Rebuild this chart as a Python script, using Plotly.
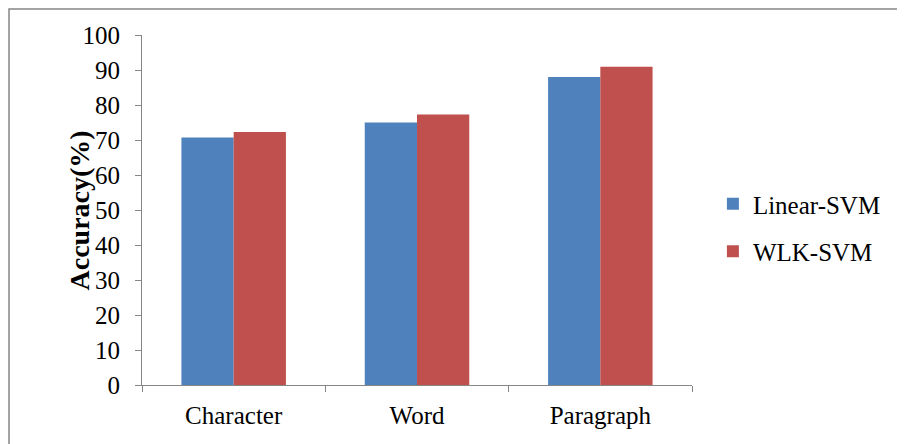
import plotly.graph_objects as go

categories = ["Character", "Word", "Paragraph"]
linear_svm = [70.7, 75.0, 88.0]
wlk_svm = [72.3, 77.3, 90.9]
y_ticks = [0, 10, 20, 30, 40, 50, 60, 70, 80, 90, 100]

FONT = "Liberation Serif"

fig = go.Figure()
fig.add_trace(go.Bar(x=categories, y=linear_svm, name="Linear-SVM",
                     marker=dict(color="#4F81BD", line=dict(width=0)),
                     legendgroup="a"))
fig.add_trace(go.Bar(x=categories, y=wlk_svm, name="WLK-SVM",
                     marker=dict(color="#C0504D", line=dict(width=0)),
                     legendgroup="b"))

fig.update_layout(
    width=897, height=436,
    margin=dict(l=134, r=213, t=27, b=59, autoexpand=False),
    paper_bgcolor="white", plot_bgcolor="white",
    font=dict(family=FONT, size=25, color="black"),
    barmode="group", bargap=0.43, bargroupgap=0,
    showlegend=True,
    legend=dict(x=1.038, y=0.45, xanchor="left", yanchor="middle",
                font=dict(family=FONT, size=25, color="black"),
                traceorder="grouped",
                tracegroupgap=12, itemwidth=30, bgcolor="rgba(0,0,0,0)"),
    xaxis=dict(showline=True, linecolor="#868686", linewidth=1,
               ticks="outside", tickson="boundaries", ticklen=6,
               tickcolor="#868686", showgrid=False, zeroline=False,
               ticklabelstandoff=8,
               tickfont=dict(family=FONT, size=25, color="black")),
    yaxis=dict(range=[0, 100], tickvals=y_ticks, showline=True,
               linecolor="#868686", linewidth=1, ticks="outside",
               ticklen=6, tickcolor="#868686", showgrid=False,
               zeroline=False, ticklabelstandoff=10,
               tickfont=dict(family=FONT, size=25, color="black")),
    annotations=[dict(text="<b>Accuracy(%)</b>", textangle=-90,
                      xref="paper", yref="paper", x=-0.1455, y=0.5,
                      showarrow=False,
                      font=dict(family=FONT, size=28, color="black"))],
    shapes=[dict(type="rect", xref="paper", yref="paper",
                 x0=-0.2418, x1=1.5, y0=-0.3, y1=1.0743,
                 line=dict(color="#868686", width=1.5))],
)

fig.write_html("out.html")
